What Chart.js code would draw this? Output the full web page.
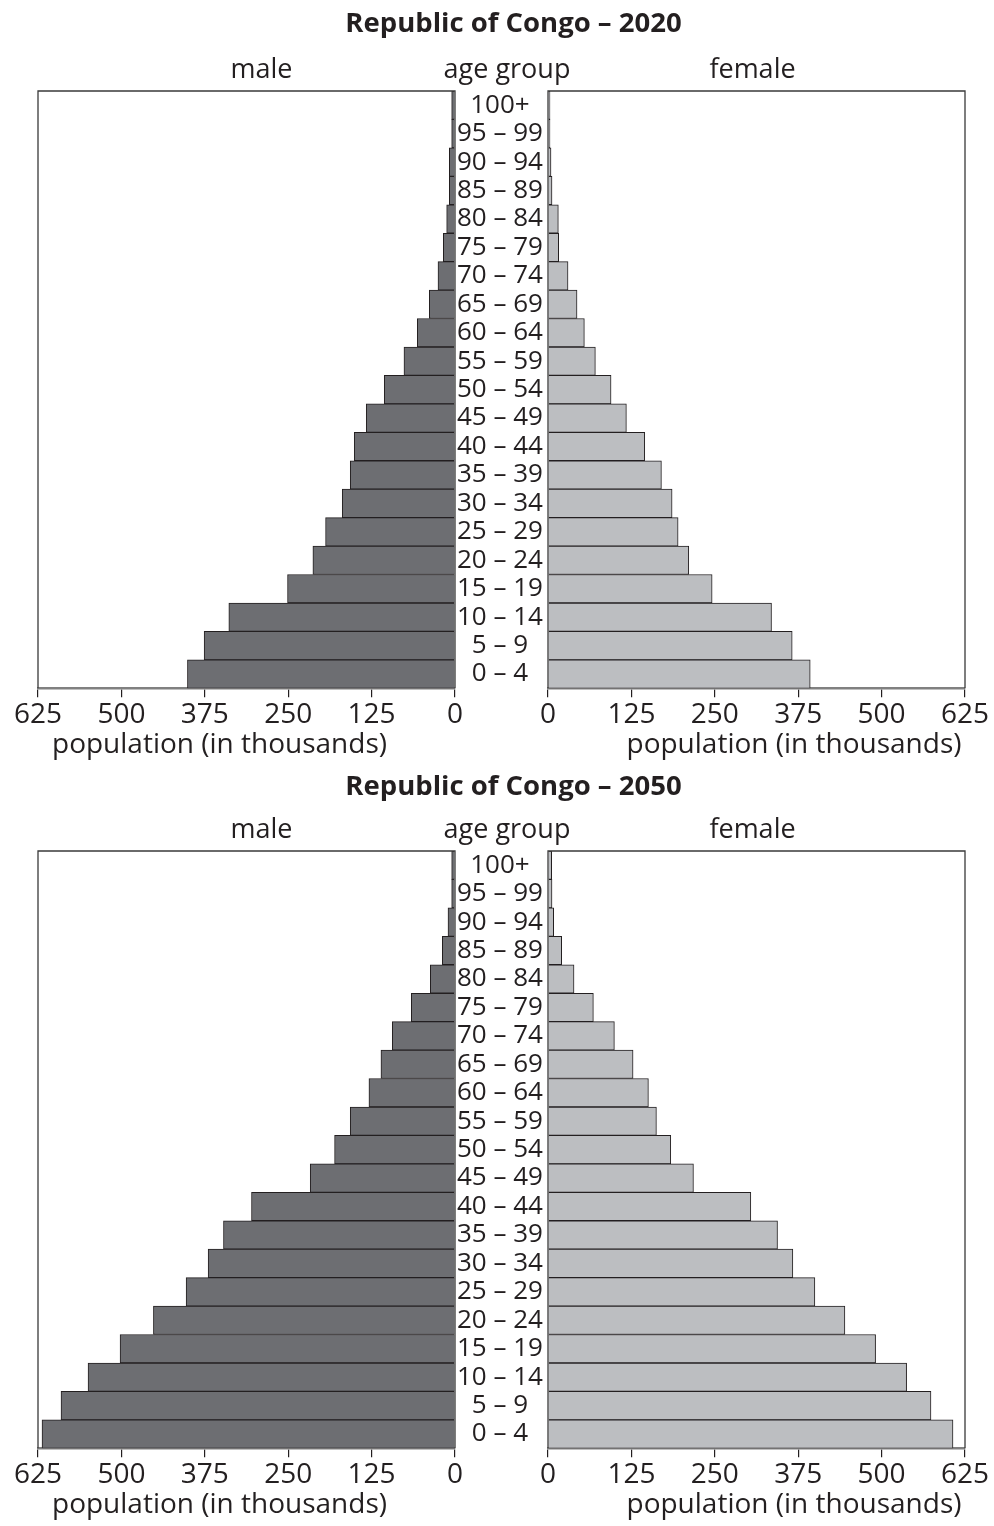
<!DOCTYPE html>
<html><head><meta charset="utf-8">
<script src="https://cdn.jsdelivr.net/npm/chart.js@4"></script>
<style>
html,body{margin:0;padding:0;background:#fff;}
#page{position:relative;width:994px;height:1526px;overflow:hidden;font-family:"Open Sans",sans-serif;color:#231f20;}
.pyr{position:absolute;left:0;width:994px;height:770px;}
.txt{position:absolute;white-space:nowrap;line-height:1;transform:translateX(-50%);}
canvas{position:absolute;top:0;}
</style></head>
<body><div id="page"></div>
<script>
const ageGroups = ["100+","95 – 99","90 – 94","85 – 89","80 – 84","75 – 79","70 – 74","65 – 69","60 – 64","55 – 59","50 – 54","45 – 49","40 – 44","35 – 39","30 – 34","25 – 29","20 – 24","15 – 19","10 – 14","5 – 9","0 – 4"];
const male2020   = [5, 5, 8.5, 8.5, 12.5, 17.5, 25.5, 38.5, 56.5, 76.5, 106, 133, 151, 157, 169, 194, 213, 251, 339, 376, 401];
const female2020 = [3, 3, 4.5, 6, 15.5, 16, 30, 43.5, 54.5, 71, 94.5, 117.5, 145, 170, 186, 195, 211, 246, 335, 366, 393];
const male2050   = [5, 5, 10.5, 19, 37, 65.5, 94, 111, 129, 157, 180.5, 217, 305, 347, 370, 403, 452, 502, 550, 590.5, 619];
const female2050 = [5.5, 6, 8.5, 20.5, 39, 68, 99.5, 127.5, 150.5, 162.5, 184, 218, 304, 344, 367, 400, 445, 491, 537.5, 574, 607];
const xTicks = [0, 125, 250, 375, 500, 625];
const pyramids = [
  {title: "Republic of Congo – 2020", male: male2020, female: female2020},
  {title: "Republic of Congo – 2050", male: male2050, female: female2050}
];
const headers = {male: "male", age: "age group", female: "female"};
const axisTitle = "population (in thousands)";

const INK = '#231f20';
const framePlugin = {
  id: 'frame',
  afterDatasetsDraw(chart) {
    const {ctx, chartArea: a} = chart;
    ctx.save();
    ctx.strokeStyle = '#3a3a3a';
    ctx.lineWidth = 1.3;
    ctx.beginPath();
    ctx.moveTo(a.left, a.bottom);
    ctx.lineTo(a.left, a.top);
    ctx.lineTo(a.right, a.top);
    ctx.lineTo(a.right, a.bottom);
    ctx.stroke();
    ctx.restore();
  }
};

function makeChart(canvas, isMale, values) {
  const yScale = {
    type: 'category', position: isMale ? 'right' : 'left', display: isMale,
    grid: {display: false, drawTicks: false},
    border: {display: false},
    ticks: {crossAlign: 'center', padding: 2, color: INK, autoSkip: false,
            font: {family: 'Open Sans', size: 26, lineHeight: 1.2}}
  };
  if (isMale) yScale.afterFit = s => { s.width = 93; };
  return new Chart(canvas, {
    type: 'bar',
    data: {
      labels: ageGroups,
      datasets: [{
        data: values,
        backgroundColor: isMale ? '#6d6e72' : '#bcbec1',
        borderColor: INK,
        borderWidth: 1,
        borderSkipped: 'start',
        categoryPercentage: 1,
        barPercentage: 1
      }]
    },
    options: {
      indexAxis: 'y',
      responsive: false,
      animation: false,
      layout: {padding: isMale ? {left: 38, top: 91, right: 0, bottom: 10.2} : {left: 40, top: 91, right: 29, bottom: 10.2}},
      plugins: {legend: {display: false}, tooltip: {enabled: false}, title: {display: false}},
      scales: {
        x: {
          type: 'linear', min: 0, max: 625, reverse: isMale, position: 'bottom',
          afterBuildTicks: s => { s.ticks = xTicks.map(v => ({value: v})); },
          ticks: {color: INK, font: {family: 'Open Sans', size: 28, lineHeight: 1}, padding: 4, maxRotation: 0, autoSkip: false},
          grid: {display: true, drawOnChartArea: false, drawTicks: true, tickLength: 9, color: INK, lineWidth: 1.2},
          border: {display: true, color: '#808080', width: 2.5},
          afterFit: s => { s.height = 71.5; }
        },
        y: yScale
      }
    },
    plugins: [framePlugin]
  });
}

function addText(parent, text, cx, top, size, bold) {
  const d = document.createElement('div');
  d.className = 'txt';
  d.textContent = text;
  d.style.left = cx + 'px';
  d.style.top = top + 'px';
  d.style.fontSize = size + 'px';
  d.style.fontWeight = bold ? '700' : '400';
  parent.appendChild(d);
}

const page = document.getElementById('page');
pyramids.forEach((p, i) => {
  const box = document.createElement('div');
  box.className = 'pyr';
  box.style.top = (i * 760) + 'px';
  page.appendChild(box);
  const cm = document.createElement('canvas');
  cm.width = 548; cm.height = 770; cm.style.left = '0px';
  box.appendChild(cm);
  const cf = document.createElement('canvas');
  cf.width = 486; cf.height = 770; cf.style.left = '508px';
  box.appendChild(cf);
  makeChart(cm, true, p.male);
  makeChart(cf, false, p.female);
  addText(box, p.title, 513.5, i === 0 ? 8 : 11, 27.5, true);
  addText(box, headers.male, 261.5, 54, 27, false);
  addText(box, headers.age, 507, 54, 27, false);
  addText(box, headers.female, 752.5, 54, 27, false);
  addText(box, axisTitle, 219.5, 728, 28, false);
  addText(box, axisTitle, 794, 728, 28, false);
});
</script>
</body></html>
